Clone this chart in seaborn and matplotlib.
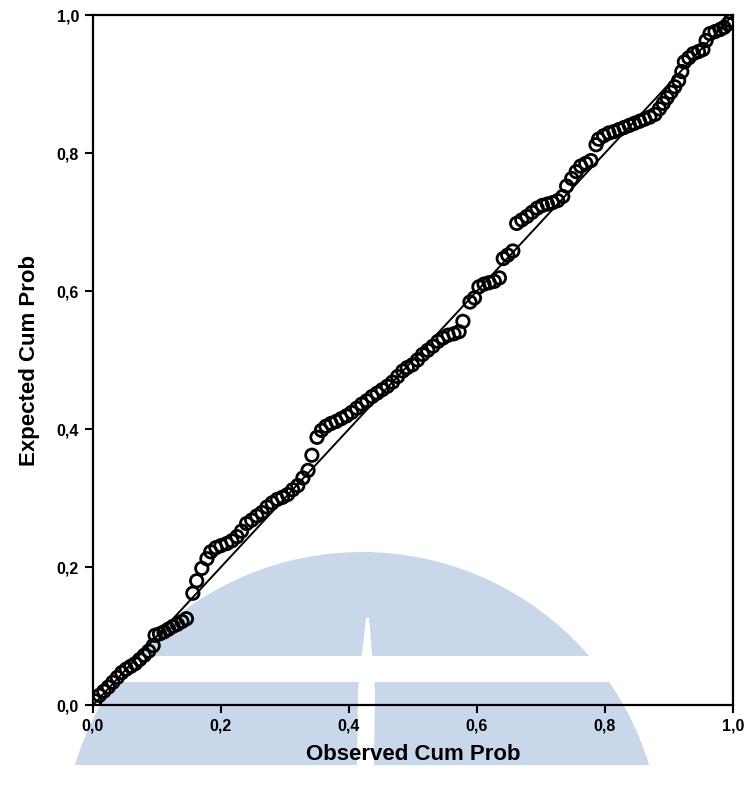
import matplotlib
matplotlib.use("Agg")
import matplotlib.pyplot as plt
import matplotlib.patches as mpatches
import matplotlib.ticker as mticker
import seaborn as sns
import pandas as pd

# observed vs expected cumulative probabilities
observed = [
    0.003, 0.010, 0.017, 0.024, 0.031, 0.038, 0.045, 0.052, 0.059, 0.066,
    0.073, 0.080, 0.087, 0.094, 0.097, 0.104, 0.111, 0.118, 0.125, 0.132,
    0.139, 0.146, 0.156, 0.162, 0.170, 0.178, 0.184, 0.192, 0.200, 0.209,
    0.217, 0.225, 0.232, 0.240, 0.248, 0.256, 0.264, 0.272, 0.280, 0.288,
    0.296, 0.304, 0.312, 0.320, 0.328, 0.336, 0.342, 0.350, 0.357, 0.364,
    0.372, 0.380, 0.388, 0.396, 0.404, 0.412, 0.420, 0.428, 0.436, 0.444,
    0.452, 0.460, 0.468, 0.476, 0.484, 0.491, 0.499, 0.507, 0.515, 0.523,
    0.531, 0.539, 0.547, 0.555, 0.564, 0.572, 0.578, 0.589, 0.596, 0.603,
    0.611, 0.619, 0.627, 0.635, 0.641, 0.648, 0.656, 0.662, 0.670, 0.678,
    0.686, 0.694, 0.702, 0.710, 0.718, 0.726, 0.734, 0.740, 0.748, 0.755,
    0.762, 0.770, 0.778, 0.786, 0.790, 0.798, 0.806, 0.814, 0.822, 0.830,
    0.838, 0.846, 0.854, 0.862, 0.870, 0.878, 0.885, 0.891, 0.897, 0.903,
    0.909, 0.915, 0.920, 0.924, 0.931, 0.938, 0.946, 0.953, 0.958, 0.964,
    0.972, 0.980, 0.986, 0.992, 0.996,
]
expected = [
    0.006, 0.014, 0.020, 0.026, 0.033, 0.040, 0.047, 0.052, 0.056, 0.060,
    0.066, 0.072, 0.078, 0.086, 0.101, 0.103, 0.106, 0.110, 0.114, 0.117,
    0.121, 0.125, 0.162, 0.180, 0.198, 0.212, 0.222, 0.228, 0.231, 0.234,
    0.238, 0.244, 0.252, 0.263, 0.268, 0.274, 0.279, 0.287, 0.293, 0.298,
    0.301, 0.305, 0.312, 0.318, 0.329, 0.340, 0.362, 0.388, 0.398, 0.404,
    0.408, 0.411, 0.415, 0.419, 0.424, 0.430, 0.436, 0.441, 0.447, 0.452,
    0.457, 0.462, 0.468, 0.476, 0.484, 0.489, 0.493, 0.500, 0.508, 0.514,
    0.520, 0.527, 0.532, 0.536, 0.538, 0.541, 0.556, 0.584, 0.590, 0.606,
    0.610, 0.612, 0.614, 0.619, 0.647, 0.652, 0.658, 0.698, 0.703, 0.708,
    0.714, 0.720, 0.724, 0.726, 0.728, 0.731, 0.737, 0.752, 0.763, 0.773,
    0.781, 0.785, 0.789, 0.812, 0.820, 0.825, 0.829, 0.831, 0.834, 0.837,
    0.840, 0.843, 0.846, 0.849, 0.852, 0.856, 0.864, 0.872, 0.880, 0.888,
    0.896, 0.905, 0.918, 0.932, 0.938, 0.944, 0.947, 0.950, 0.963, 0.973,
    0.976, 0.979, 0.982, 0.987, 0.992,
]
ref_line = [0.0, 1.0]
tick_values = [0.0, 0.2, 0.4, 0.6, 0.8, 1.0]

df = pd.DataFrame({"observed": observed, "expected": expected})

sns.set_style("white")
plt.rcParams["font.family"] = ["Liberation Sans", "DejaVu Sans"]
plt.rcParams["text.color"] = "black"
plt.rcParams["axes.labelcolor"] = "black"
plt.rcParams["xtick.color"] = "black"
plt.rcParams["ytick.color"] = "black"

W, H = 747, 786
fig = plt.figure(figsize=(W / 100, H / 100), dpi=100)

# watermark logo behind the chart (pixel coordinates, y down)
bg = fig.add_axes([0, 0, 1, 1], zorder=0)
bg.set_xlim(0, W)
bg.set_ylim(H, 0)
bg.axis("off")
logo = "#c9d7ea"
bg.add_patch(mpatches.Circle((362, 852), 300, color=logo, lw=0))
bg.add_patch(mpatches.Rectangle((0, 765), W, 40, color="white", lw=0))
bg.add_patch(mpatches.Rectangle((0, 656), W, 26, color="white", lw=0))
bg.add_patch(mpatches.Polygon([(366, 618), (369, 618), (375, 690), (374, 765),
                               (357, 765), (358, 690)], color="white", lw=0))

ax = fig.add_axes([93 / W, 1 - 705 / H, 640 / W, 690 / H], zorder=1)
ax.set_facecolor("none")

sns.lineplot(x=ref_line, y=ref_line, ax=ax, color="black", linewidth=1.4)
sns.scatterplot(data=df, x="observed", y="expected", ax=ax, s=80,
                facecolor="none", edgecolor="black", linewidth=2.0)

ax.set_xlim(0, 1)
ax.set_ylim(0, 1)
ax.set_xticks(tick_values)
ax.set_yticks(tick_values)
fmt = mticker.FuncFormatter(lambda v, p: f"{v:.1f}".replace(".", ","))
ax.xaxis.set_major_formatter(fmt)
ax.yaxis.set_major_formatter(fmt)
ax.tick_params(direction="out", length=6, width=1.5, labelsize=11.5,
               bottom=True, left=True, pad=4)
for lab in ax.get_xticklabels() + ax.get_yticklabels():
    lab.set_fontweight("bold")
for sp in ax.spines.values():
    sp.set_visible(True)
    sp.set_color("black")
    sp.set_linewidth(1.6)

ax.set_xlabel("Observed Cum Prob", fontsize=16, fontweight="bold", labelpad=7)
ax.set_ylabel("Expected Cum Prob", fontsize=16, fontweight="bold", labelpad=12)

fig.savefig("out.png", dpi=100)
